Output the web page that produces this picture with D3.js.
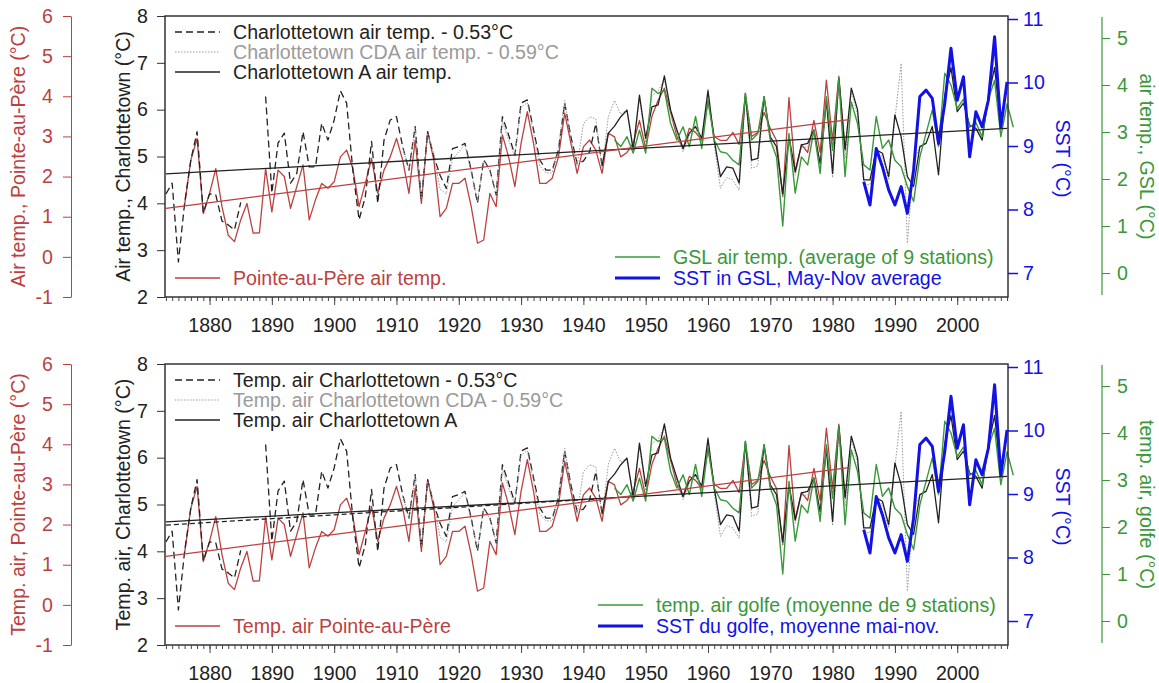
<!DOCTYPE html>
<html lang="en">
<head>
<meta charset="utf-8">
<title>Air temperature and SST, Gulf of St. Lawrence</title>
<script src="https://d3js.org/d3.v7.min.js"></script>
<style>
  body { margin: 0; background: #fff; }
  svg text { font-family: "Liberation Sans", Arial, sans-serif; font-size: 19.6px; }
</style>
</head>
<body>
<div id="chart"></div>
<script>
// ---- data ----
// Charlottetown air temp. - 0.53 (dashed), 1873-1943, gap 1886-1888
var charOldStart = 1873;
var charOld = [4.2, 4.43, 2.75, 4.0, 4.93, 5.53, 3.8, 4.2, 4.18, 3.62, 3.54, 3.43, 4.02, null, null, null,
  6.28, 4.22, 5.29, 5.5, 4.43, 4.64, 5.53, 4.78, 4.78, 5.71, 5.35, 5.78, 6.4, 6.14, 4.7, 3.65, 4.14, 5.32,
  4.0, 5.35, 5.78, 5.85, 5.21, 4.71, 5.64, 4.07, 5.53, 5.0, 4.6, 4.32, 5.17, 5.21, 5.28, 4.71, 4.0, 4.93,
  4.71, 4.18, 5.85, 5.46, 5.03, 6.14, 6.21, 5.57, 4.93, 4.71, 4.71, 5.14, 6.14, 5.42, 4.85, 4.9, 5.1, 5.7, 4.8];
// Charlottetown CDA air temp. - 0.59 (dotted grey), 1911-1995
var charCdaStart = 1911;
var charCda = [5.2, 4.7, 5.6, 4.1, 5.5, 5.05, 4.3, 4.2, 4.95, 5.1, 5.25, 4.65, 4.05, 4.9, 4.7, 4.2, 5.75, 5.35,
  5.0, 6.05, 6.15, 5.5, 4.8, 4.65, 4.65, 5.2, 6.2, 5.35, 4.8, 5.7, 5.85, 5.8, 4.75, 5.85, 6.2, 5.9, 6.0, 5.2,
  6.25, 5.3, 6.3, 6.4, 6.65, 5.95, 5.5, 5.1, 5.45, 5.6, 5.3, 6.45, 5.25, 4.32, 4.55, 4.5, 4.28, 6.3, 4.75,
  4.8, 6.2, 5.3, 5.15, 4.15, 5.35, 4.6, 5.2, 5.2, 5.5, 4.7, 6.15, 4.55, 6.6, 4.95, 6.4, 5.9, 4.4, 4.4, 5.1,
  5.0, 4.5, 5.8, 6.99, 3.15, 4.9, 5.2, 5.3];
// Charlottetown A air temp. (solid black), 1943-2008
var charAStart = 1943;
var charA = [4.8, 5.5, 5.65, 5.85, 5.99, 5.14, 6.31, 5.39, 6.06, 6.1, 6.72, 5.99, 5.57, 5.17, 5.5, 5.64, 5.39,
  6.4, 5.35, 4.57, 4.78, 4.75, 4.43, 6.35, 4.92, 4.96, 6.28, 5.42, 5.21, 4.2, 5.42, 4.68, 5.25, 5.28, 5.57,
  4.85, 6.21, 4.64, 6.67, 5.14, 6.46, 6.0, 4.5, 4.5, 5.14, 5.07, 4.57, 5.89, 5.42, 4.57, 4.36, 5.21, 5.28,
  5.64, 4.61, 6.3, 6.9, 5.96, 6.14, 5.67, 5.6, 5.35, 6.28, 6.9, 5.64, 6.56];
// Pointe-au-Pere air temp. (red axis), 1876-1982
var ptpStart = 1876;
var ptp = [1.3, 2.41, 2.95, 1.08, 1.58, 2.2, 1.25, 0.54, 0.38, 0.92, 1.33, 0.59, 0.6, 2.2, 1.12, 2.16, 2.0,
  1.21, 1.75, 2.29, 0.92, 1.42, 1.83, 1.71, 1.87, 2.49, 2.66, 2.2, 1.25, 1.83, 2.45, 1.58, 2.16, 2.49, 2.95,
  2.41, 1.58, 2.91, 1.33, 3.12, 2.41, 1.0, 1.21, 1.83, 1.83, 1.96, 1.25, 0.34, 0.42, 1.58, 1.25, 3.04, 2.49,
  1.75, 2.83, 3.62, 2.83, 1.83, 1.83, 1.96, 2.49, 3.58, 2.83, 2.08, 2.74, 2.91, 2.66, 2.08, 3.08, 2.99, 2.49,
  2.6, 2.83, 3.4, 2.7, 3.5, 3.9, 4.2, 3.6, 3.0, 2.7, 3.2, 3.1, 2.9, 3.9, 3.0, 2.9, 2.9, 3.1, 2.8, 4.0, 3.0,
  3.1, 3.6, 3.2, 2.9, 1.5, 3.97, 2.1, 2.8, 2.6, 3.4, 2.6, 4.4, 2.9, 4.5, 2.7];
// GSL air temp., average of 9 stations (green axis), 1945-2009
var gslStart = 1945;
var gsl = [2.83, 2.69, 2.9, 2.55, 3.04, 2.55, 3.93, 3.82, 3.89, 3.18, 2.83, 3.11, 2.69, 3.33, 2.65, 3.68, 2.83,
  2.58, 2.55, 2.4, 2.3, 3.82, 2.83, 2.97, 3.75, 2.83, 2.47, 1.0, 2.97, 1.7, 2.47, 2.3, 3.04, 2.12, 3.75, 2.61,
  4.14, 2.05, 3.64, 3.18, 2.3, 2.19, 3.33, 2.65, 2.83, 2.4, 2.26, 1.84, 1.52, 2.47, 2.97, 3.47, 2.69, 4.25,
  4.0, 3.5, 3.7, 3.1, 3.2, 2.9, 3.7, 4.1, 2.9, 3.6, 3.1];
// SST in GSL, May-Nov average (blue axis), 1985-2008
var sstStart = 1985;
var sst = [8.44, 8.07, 8.96, 8.67, 8.31, 8.07, 8.36, 7.94, 8.62, 9.78, 9.88, 9.75, 9.04, 9.67, 10.54, 9.72,
  10.09, 8.83, 9.54, 9.3, 9.72, 10.72, 9.3, 10.01];
// linear trends
var charTrendYears = [1873, 2008], charTrendVals = [4.63, 5.6];
var ptpTrendYears = [1873, 1982.6], ptpTrendVals = [1.21, 3.42];
var oldTrendYears = [1873, 1942], oldTrendVals = [4.56, 5.12];

// ticks
var decadeTicks = [1880, 1890, 1900, 1910, 1920, 1930, 1940, 1950, 1960, 1970, 1980, 1990, 2000];
var charTicks = [2, 3, 4, 5, 6, 7, 8];
var ptpTicks = [-1, 0, 1, 2, 3, 4, 5, 6];
var sstTicks = [7, 8, 9, 10, 11];
var gslTicks = [0, 1, 2, 3, 4, 5];

// texts
var textEn = {
  leg: ["Charlottetown air temp. - 0.53\u00b0C", "Charlottetown CDA air temp. - 0.59\u00b0C", "Charlottetown A air temp.",
        "Pointe-au-P\u00e8re air temp.", "GSL air temp. (average of 9 stations)", "SST in GSL, May-Nov average"],
  ptp: "Air temp., Pointe-au-P\u00e8re (\u00b0C)", ch: "Air temp., Charlottetown (\u00b0C)",
  sst: "SST (\u00b0C)", gsl: "air temp., GSL (\u00b0C)"
};
var textFr = {
  leg: ["Temp. air Charlottetown - 0.53\u00b0C", "Temp. air Charlottetown CDA - 0.59\u00b0C", "Temp. air Charlottetown A",
        "Temp. air Pointe-au-P\u00e8re", "temp. air golfe (moyenne de 9 stations)", "SST du golfe, moyenne mai-nov."],
  ptp: "Temp. air, Pointe-au-P\u00e8re (\u00b0C)", ch: "Temp. air, Charlottetown (\u00b0C)",
  sst: "SST (\u00b0C)", gsl: "temp. air, golfe (\u00b0C)"
};

// ---- drawing ----
var w = 1159, h = 683;
var red = "#bb4141", green = "#3a983a", blue = "#1212e6", grey = "#9a9a9a", black = "#222";
// plain hyphen for negatives, like the original
var fmt = function(d) { return String(d); };

var svg = d3.select("#chart").append("svg").attr("width", w).attr("height", h);

var x = d3.scaleLinear().domain([1872.85, 2008.15]).range([165, 1008]);

function series(start, vals) {
  return vals.map(function(v, i) { return {year: start + i, v: v}; });
}
function pairs(ys, vs) {
  return ys.map(function(y, i) { return {year: y, v: vs[i]}; });
}

function drawPanel(top, txt, oldTrend, rightLegX) {
  var bottom = top + 281;
  var mid = (top + bottom) / 2;
  var g = svg.append("g");

  var yC = d3.scaleLinear().domain([2, 8]).range([bottom, top]);
  var yP = d3.scaleLinear().domain([-1, 6]).range([bottom, top]);
  var yS = d3.scaleLinear().domain([7, 11]).range([top + 257, top + 3]);
  var yG = d3.scaleLinear().domain([0, 5]).range([top + 257, top + 22]);

  function lineOf(y) {
    return d3.line().defined(function(d) { return d.v !== null; })
      .x(function(d) { return x(d.year); }).y(function(d) { return y(d.v); });
  }
  function path(data, y, color, width, dash) {
    g.append("path").datum(data).attr("d", lineOf(y)).attr("fill", "none")
      .attr("stroke", color).attr("stroke-width", width)
      .attr("stroke-dasharray", dash || null).attr("stroke-linejoin", "round");
  }

  // series
  path(series(ptpStart, ptp), yP, red, 1.3);
  path(series(charOldStart, charOld), yC, black, 1.3, "7,4");
  path(series(charCdaStart, charCda), yC, grey, 1, "1.5,1.5");
  path(series(charAStart, charA), yC, black, 1.3);
  path(series(gslStart, gsl), yG, green, 1.4);
  path(series(sstStart, sst), yS, blue, 3);
  // trends
  path(pairs(charTrendYears, charTrendVals), yC, black, 1.3);
  if (oldTrend) path(pairs(oldTrendYears, oldTrendVals), yC, black, 1.3, "5,3");
  path(pairs(ptpTrendYears, ptpTrendVals), yP, red, 1.3);

  // frame
  g.append("rect").attr("x", 165).attr("y", top).attr("width", 843).attr("height", 281)
    .attr("fill", "none").attr("stroke", "#333").attr("stroke-width", 1.5);

  // x axis: yearly minor ticks + decade labels
  var minor = d3.range(1873, 2009);
  g.append("g").attr("transform", "translate(0," + bottom + ")")
    .call(d3.axisBottom(x).tickValues(minor).tickSize(4).tickFormat(""))
    .call(function(s) { s.select(".domain").remove(); s.selectAll("line").attr("stroke", "#444"); });
  g.append("g").attr("transform", "translate(0," + bottom + ")")
    .call(d3.axisBottom(x).tickValues(decadeTicks).tickSize(8).tickPadding(13).tickFormat(fmt))
    .call(function(s) { s.select(".domain").remove(); s.selectAll("line").attr("stroke", "#444"); s.selectAll("text").attr("fill", black); });

  // Charlottetown axis (left, black)
  g.append("g").attr("transform", "translate(165,0)")
    .call(d3.axisLeft(yC).tickValues(charTicks).tickSize(8).tickPadding(9).tickFormat(fmt))
    .call(function(s) { s.select(".domain").remove(); s.selectAll("line").attr("stroke", "#333"); s.selectAll("text").attr("fill", black); });

  // Pointe-au-Pere axis (outer left, red)
  g.append("g").attr("transform", "translate(71,0)")
    .call(d3.axisLeft(yP).tickValues(ptpTicks).tickSize(8).tickSizeOuter(0).tickPadding(10).tickFormat(fmt))
    .call(function(s) { s.select(".domain").attr("stroke", red); s.selectAll("line").attr("stroke", red); s.selectAll("text").attr("fill", red); });

  // SST axis (right, blue)
  g.append("g").attr("transform", "translate(1008,0)")
    .call(d3.axisRight(yS).tickValues(sstTicks).tickSize(10).tickPadding(5).tickFormat(fmt))
    .call(function(s) { s.select(".domain").remove(); s.selectAll("line").attr("stroke", blue).attr("stroke-width", 1.5); s.selectAll("text").attr("fill", blue); });

  // GSL axis (outer right, green)
  g.append("line").attr("x1", 1102).attr("x2", 1102).attr("y1", top + 1).attr("y2", bottom - 2)
    .attr("stroke", green).attr("stroke-width", 1.2);
  g.append("g").attr("transform", "translate(1102,0)")
    .call(d3.axisRight(yG).tickValues(gslTicks).tickSize(8).tickPadding(7).tickFormat(fmt))
    .call(function(s) { s.select(".domain").remove(); s.selectAll("line").attr("stroke", green); s.selectAll("text").attr("fill", green); });

  // axis titles
  g.append("text").attr("transform", "translate(18," + mid + ") rotate(-90)").attr("text-anchor", "middle")
    .attr("dy", "0.35em").attr("fill", red).text(txt.ptp);
  g.append("text").attr("transform", "translate(123," + mid + ") rotate(-90)").attr("text-anchor", "middle")
    .attr("dy", "0.35em").attr("fill", black).text(txt.ch);
  g.append("text").attr("transform", "translate(1063," + (mid + 2) + ") rotate(90)").attr("text-anchor", "middle")
    .attr("dy", "0.35em").attr("fill", blue).text(txt.sst);
  g.append("text").attr("transform", "translate(1147," + mid + ") rotate(90)").attr("text-anchor", "middle")
    .attr("dy", "0.35em").attr("fill", green).text(txt.gsl);

  // legends
  var legItems = [
    {x: 175, y: top + 16, color: black, text: black, w: 1.3, dash: "7,4", t: txt.leg[0]},
    {x: 175, y: top + 36, color: grey, text: grey, w: 1, dash: "1.5,1.5", t: txt.leg[1]},
    {x: 175, y: top + 56, color: black, text: black, w: 1.3, dash: null, t: txt.leg[2]},
    {x: 175, y: top + 262, color: red, text: red, w: 1.3, dash: null, t: txt.leg[3]},
    {x: rightLegX, y: top + 241, color: green, text: green, w: 1.4, dash: null, t: txt.leg[4]},
    {x: rightLegX, y: top + 262, color: blue, text: blue, w: 3, dash: null, t: txt.leg[5]}
  ];
  var leg = g.selectAll("g.legend").data(legItems).enter().append("g").attr("class", "legend");
  leg.append("line").attr("x1", function(d) { return d.x; }).attr("x2", function(d) { return d.x + 45; })
    .attr("y1", function(d) { return d.y; }).attr("y2", function(d) { return d.y; })
    .attr("stroke", function(d) { return d.color; }).attr("stroke-width", function(d) { return d.w; })
    .attr("stroke-dasharray", function(d) { return d.dash; });
  leg.append("text").attr("x", function(d) { return d.x + 58; }).attr("y", function(d) { return d.y; })
    .attr("dy", "0.35em").attr("fill", function(d) { return d.text; }).text(function(d) { return d.t; });
}

drawPanel(16, textEn, false, 615);
drawPanel(364, textFr, true, 598);
</script>
</body>
</html>
